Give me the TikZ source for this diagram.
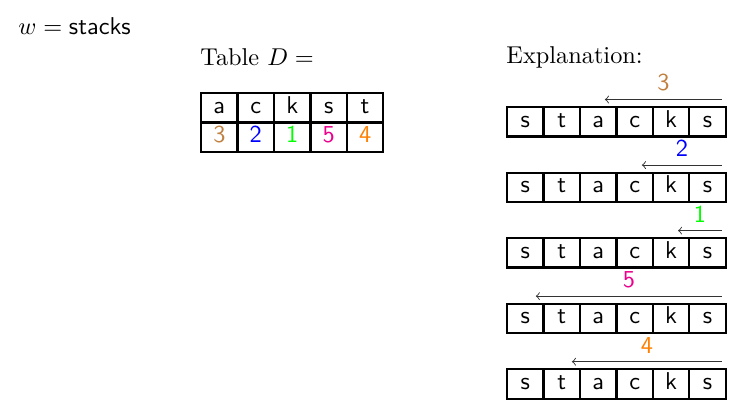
\documentclass[tikz,border=0pt,11pt]{standalone}
\usepackage{array}
\usetikzlibrary{positioning}

\setlength{\tabcolsep}{5.3pt}
\setlength{\arrayrulewidth}{1pt}
\renewcommand{\arraystretch}{0.9}

\newcommand{\wordrow}{%
  \begin{tabular}{|*{6}{w{c}{4.8pt}|}}\hline
  s & t & a & c & k & s \\ \hline
  \end{tabular}}

\begin{document}
\begin{tikzpicture}[
  x=0.45pt,
  y=-0.45pt,
  node distance=15.25pt,
  heading/.style={
    anchor=west,
    inner sep=0
  },
  wordrow/.style={
    inner sep=0,
    outer sep=0,
    font=\sffamily
  },
  shiftarrow/.style={
    ->,
    draw=black!80,
    line width=0.4pt
  },
  shiftlabel/.style={
    above,
    midway,
    font=\sffamily
  }
  ]
  \useasboundingbox (0,0) rectangle (753,409);

  \node [heading] (W) at (18,26) {$w = \mbox{\sffamily stacks}$};
  \node [heading] (T) at (200,57) {Table $D =$};
  \node [heading] (X) at (506,57) {Explanation:};

  \node [wordrow, anchor=north west] (D) at (200,92) {
  \begin{tabular}{|*{5}{w{c}{4.8pt}|}}\hline
  a & c & k & s & t \\ \hline
  \color{brown}3 & \color{blue}2 & \color{green}1 & \color{magenta}5 & \color{orange}4 \\ \hline
  \end{tabular}
  };

  \node [wordrow, anchor=north west] (R1) at (506,106) {\wordrow};
  \node [wordrow, below = of R1] (R2) {\wordrow};
  \node [wordrow, below = of R2] (R3) {\wordrow};
  \node [wordrow, below = of R3] (R4) {\wordrow};
  \node [wordrow, below = of R4] (R5) {\wordrow};

  \draw[shiftarrow] ([xshift=-2.25pt,yshift=2.9pt]R1.north east) -- node[shiftlabel, text=brown] {3} ([xshift=-54.9pt,yshift=2.9pt]R1.north east);
  \draw[shiftarrow] ([xshift=-2.25pt,yshift=2.9pt]R2.north east) -- node[shiftlabel, text=blue] {2} ([xshift=-38.25pt,yshift=2.9pt]R2.north east);
  \draw[shiftarrow] ([xshift=-2.25pt,yshift=2.9pt]R3.north east) -- node[shiftlabel, text=green] {1} ([xshift=-22pt,yshift=2.9pt]R3.north east);
  \draw[shiftarrow] ([xshift=-2.25pt,yshift=2.9pt]R4.north east) -- node[shiftlabel, text=magenta] {5} ([xshift=-86pt,yshift=2.9pt]R4.north east);
  \draw[shiftarrow] ([xshift=-2.25pt,yshift=2.9pt]R5.north east) -- node[shiftlabel, text=orange] {4} ([xshift=-69.75pt,yshift=2.9pt]R5.north east);

\end{tikzpicture}
\end{document}
